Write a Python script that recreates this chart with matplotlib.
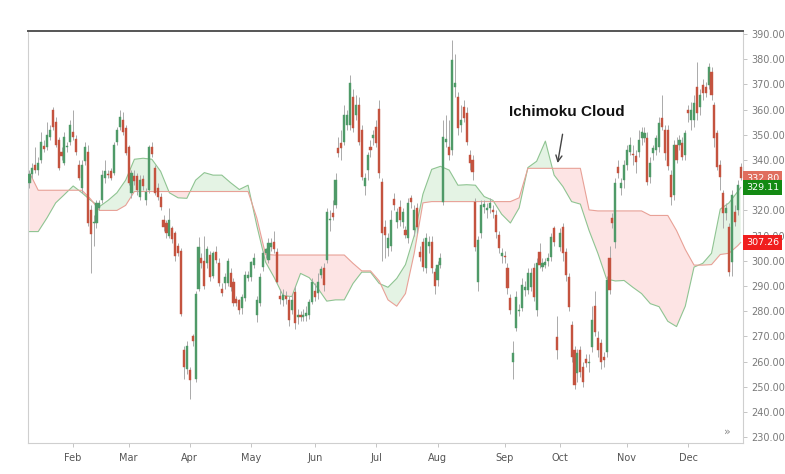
import matplotlib
matplotlib.use('Agg')
import matplotlib.pyplot as plt
import numpy as np
import pandas as pd

# trading days (NYSE 2018), first visible bar Jan 10
holidays = ['2018-01-15', '2018-02-19', '2018-03-30', '2018-05-28', '2018-07-04',
            '2018-09-03', '2018-11-22', '2018-12-05', '2018-12-25']
dates = pd.bdate_range('2018-01-10', '2018-12-31')
dates = dates[~dates.isin(pd.to_datetime(holidays))]

opens = [331, 334.5, 338, 336, 340, 345.5, 345, 349, 360, 355, 348, 343, 339, 345, 347, 351, 348.5, 338,
         329, 339.5, 343, 320, 315, 315, 321, 324, 333, 334.5, 335.5, 335, 347, 353, 356, 352.6, 345, 327,
         333.5, 333.5, 325.5, 332.5, 324, 328, 345, 337, 329, 325.5, 316, 315, 310, 313, 311, 306, 304,
         264.5, 257, 256.7, 270, 253, 289, 301, 300, 299, 302.3, 294, 303.6, 299, 288.7, 291, 291, 295,
         291.7, 284.7, 284.5, 281.1, 285.1, 293, 293.7, 298.3, 278.5, 283.1, 297.7, 303, 300.3, 305.6,
         307.6, 303.6, 286, 284.5, 286, 284.5, 280.5, 287.8, 277.6, 278.5, 277.6, 278, 278.5, 283.8, 288,
         287.1, 294.4, 297, 300.3, 316, 318.9, 322.2, 344.6, 346.6, 347.3, 353.9, 353.9, 365.1, 357.9,
         361.8, 351.9, 329.7, 336, 345, 348.6, 353.2, 360.1, 331.4, 313.6, 305, 306, 324.4, 315.5, 321.5,
         315.5, 312.2, 308.9, 324.8, 312.2, 320.8, 303.6, 307.6, 297, 306, 307.6, 295.7, 292.4, 298.3,
         323.5, 347, 345.3, 344, 369.1, 365.1, 353.9, 361.2, 358.5, 342, 340, 323.5, 291.7, 310.9, 321.5,
         320, 321, 320, 318.2, 310.3, 302, 302, 297, 285.1, 260, 273.2, 280, 281.1, 288.4, 288.4, 289.7,
         297, 280.5, 303.6, 297.7, 298.3, 300, 301.6, 312.9, 269.9, 305.6, 313.5, 303.6, 293.7, 274.5,
         264.6, 255.3, 264.6, 258, 261, 259.3, 265.9, 282, 269.3, 267.2, 262, 264, 301, 316.8, 307.6,
         337.3, 328.8, 332, 338, 343.3, 342.5, 341.5, 343.3, 348.6, 348.6, 348.6, 333.4, 342.6, 344,
         345.3, 356.5, 351.9, 351.9, 334, 326.1, 346, 346, 346.6, 342, 359.8, 355.9, 355.9, 369.1, 361.2,
         369.8, 369.1, 369.8, 375, 361.8, 350.6, 338, 326.8, 318.9, 313.5, 299.7, 319.5, 320.2, 337.4]
highs = [336, 339, 345, 341, 351, 348, 355, 354, 361, 357, 349, 345, 351, 347, 356, 360, 350, 340,
         340, 347, 346, 322, 318, 324, 324, 336, 340, 336, 337, 347, 353, 360, 359, 354, 346, 336,
         336, 335, 334, 334, 329, 346, 347, 338, 331, 327, 318, 316, 321, 314, 312, 307, 305,
         266, 268, 258, 271, 288, 309.6, 303, 310, 306, 304, 304, 306, 301, 291, 295, 301, 297,
         293, 286, 285, 287, 296, 296, 300, 303, 286, 295, 304, 305, 309, 309,
         312, 305, 289, 289, 288, 286, 287, 290, 281, 280, 281, 282, 285, 293, 291,
         295, 298, 299, 321, 320, 324, 335, 349, 352, 362, 360, 373.7, 368, 366,
         365, 354, 335, 343, 348, 352, 356, 364, 333, 316, 311, 320, 327, 321, 324,
         321, 314, 325, 326, 322, 323, 306, 309, 311, 310, 310, 297, 300, 303,
         356, 358, 356, 387.6, 382, 367, 362, 364, 361, 344, 342, 325, 310, 324, 324,
         323, 325, 322, 320, 312, 305, 304, 299, 287, 268, 288, 283, 293, 292, 297, 297,
         299, 301, 307, 301, 301, 303, 311, 314, 278, 313, 315, 305, 295, 276,
         266, 265, 266, 260, 263, 263, 282, 288, 272, 269, 264, 294, 306, 319, 333,
         340, 333, 340, 346, 349, 346, 344, 352, 353, 353, 351, 341, 346, 350,
         357, 366, 354, 354, 336, 348, 349, 350, 349, 352, 362, 363, 366, 379, 368,
         372, 371, 378.4, 377, 363, 352, 340, 328, 323, 315, 328, 322, 332, 339]
lows = [329, 333, 335, 334, 339, 343, 344, 348, 352, 345, 336, 340, 338, 343, 346, 348, 342, 332,
        327, 338, 314, 295, 306, 313, 320, 323, 331, 333, 332, 334, 346, 352, 350, 342, 330, 325,
        330, 326, 324, 328, 322, 327, 341, 326, 324, 320, 312, 309, 309, 307, 300, 302, 278,
        253, 255, 245, 266, 252, 288, 297, 289, 297, 292, 293, 299, 290, 286, 289, 290, 288,
        282, 282, 279, 279, 284, 292, 292, 297, 275.8, 282, 296, 301, 299, 304,
        303, 291, 283, 282, 283, 274, 279, 273, 275, 276, 276, 276, 277, 283, 284,
        285, 293, 288, 299, 312, 316, 321, 341, 340, 346, 352, 352, 351, 356,
        346, 332, 326, 332, 341, 346, 345, 333, 300, 301, 302, 304, 320, 313, 314,
        313, 309, 307, 321, 310, 311, 300, 296, 295, 303, 295, 287, 290, 297,
        322, 345, 340, 342, 365, 350, 351, 355, 346, 336, 332, 304, 288, 309, 319,
        317, 319, 317, 309, 303, 299, 299, 287, 279, 253, 272, 278, 280, 286, 287, 288,
        284, 278, 297, 296, 297, 298, 300, 306, 261, 304, 300, 292, 280, 260,
        249, 252, 254, 250, 258, 256, 264, 270, 262, 257, 258, 262, 287, 313, 305,
        333, 326, 329, 336, 342, 338, 335, 341, 346, 347, 330, 331, 340, 342,
        343, 352, 340, 336, 322, 324, 339, 344, 340, 340, 355, 352, 353, 356, 358,
        364, 365, 368, 364, 345, 336, 328, 313, 316, 294, 294, 314, 318, 332]
closes = [334.5, 337, 336, 339, 347, 344.5, 350, 352, 353, 346, 337, 341.5, 349, 345.5, 354, 349, 343, 333,
          338, 345, 315, 310.5, 315.5, 322.8, 323, 334, 335.5, 334, 333, 346, 352, 357, 351, 342.7, 331, 335,
          331.5, 328, 332, 329.5, 327.5, 345, 342.5, 327, 325.5, 321.5, 313.6, 311, 316, 308.5, 302, 303, 279,
          258, 266, 252.7, 268, 287, 305.6, 299, 290, 304.5, 293.7, 303, 300.3, 291, 287.3, 293.7, 300, 289.7,
          283.1, 283.1, 280.5, 285.8, 294.4, 294.4, 299.6, 301, 284.4, 293.7, 303, 304.5, 307, 307.2,
          304.5, 291.7, 285, 286.4, 284.7, 276.5, 284.5, 275.2, 278.5, 277.6, 278.5, 279.2, 283.8, 291.7, 285.5,
          291.7, 296.6, 290.4, 319.5, 316.5, 317.3, 332, 342.7, 344.6, 357.9, 357.9, 370.4, 352.6, 361.8,
          347.3, 333.4, 332.7, 342, 344, 350, 346.6, 334.7, 310.9, 310.3, 308.9, 316, 322.2, 319.5, 316.2,
          319.2, 310.2, 322.8, 323.5, 320.2, 313.4, 301.6, 297.7, 309, 307.5, 297, 290, 298.3, 301,
          349.3, 348.5, 342, 379.7, 370.4, 352.6, 355.9, 356.5, 347.3, 338.7, 335.4, 305.6, 308.3, 322.2, 322.5,
          321, 323, 319.5, 311.6, 305, 303, 301.5, 289.1, 280.5, 263.3, 285.8, 280, 290.4, 289.7, 295, 295,
          285.8, 299, 298.3, 299, 299.6, 301, 309.6, 307.6, 264.6, 310.9, 303, 294.4, 281.8, 262,
          250.7, 263.3, 256, 252.1, 259.3, 259.5, 276.5, 271.9, 264.6, 260, 260.5, 292.4, 288.4, 314.9, 330.7,
          334.7, 330.7, 338, 344, 346, 341.8, 339.3, 348, 351.2, 350.6, 331.4, 338.7, 344.6, 348.6,
          354.6, 353.2, 342.6, 337.8, 325.4, 346, 340, 348, 341.3, 350.6, 358.5, 359.8, 362.5, 358.5, 365.8,
          366.5, 366.5, 377, 365.8, 348.6, 337.4, 333.4, 318.9, 320.8, 295.7, 326.1, 315.5, 330, 332.8]

# Ichimoku leading spans, read every third bar (plus the last bar)
span_a = [311.6, 311.6, 317, 323, 326.3, 329.7, 327, 324, 321.5, 324,
          327, 332, 340.3, 340.7, 340.3, 335.5, 327, 325, 324.8, 332,
          335, 334, 334, 331, 328.3, 330, 314, 299.5, 293.3, 286.2,
          285.8, 295, 293.3, 289, 284, 284.5, 284.5, 291, 295.5, 295.5,
          291, 289.5, 293, 298.5, 310, 326.5, 336.3, 337.5, 336, 330,
          330.2, 330, 325.5, 324, 318.5, 315, 321, 337, 339.5, 347.5,
          334, 329.5, 323.5, 322.5, 312, 303, 292.8, 292, 292.2, 289.5,
          287, 283, 281.8, 276, 273.9, 282, 297.5, 299, 303, 320.5,
          323, 327.5, 329.11]
span_b = [335, 328, 328, 328, 328, 328, 328, 324.5, 320, 320,
          320, 322, 327.5, 327.5, 327.5, 327.5, 327.5, 327.5, 327.5, 327.5,
          327.5, 327.5, 327.5, 327.5, 327.5, 327.5, 317, 302.5, 302.3, 302.3,
          302.3, 302.3, 302.3, 302.3, 302.3, 302.3, 302.3, 299, 296, 296,
          292, 284.5, 282, 287, 303, 323, 323.5, 323.5, 323.5, 323.5,
          323.5, 323.5, 323.5, 323.5, 323.5, 323.5, 325, 336.7, 336.7, 336.7,
          336.7, 336.7, 336.7, 336.7, 320.2, 319.8, 319.8, 319.8, 319.8, 319.8,
          319.8, 318, 318, 318, 312, 304.5, 298.3, 298.3, 298.5, 302.5,
          303, 306, 307.26]

up_col = '#4f9a68'
down_col = '#c4533f'

o = np.array(opens, float)
h = np.array(highs, float)
l = np.array(lows, float)
c = np.array(closes, float)
n = len(dates)
x = np.arange(n)

fig = plt.figure(figsize=(7.85, 4.74), dpi=100)
ax = fig.add_axes([28/785, 31/474, 715/785, 412/474])

# cloud
sx = np.r_[np.arange(0, n, 3), n - 1]
sa = np.array(span_a)
sb = np.array(span_b)
ax.fill_between(sx, sa, sb, where=sa >= sb, interpolate=True, color='#e4f3e4', lw=0, zorder=1)
ax.fill_between(sx, sa, sb, where=sa < sb, interpolate=True, color='#fde4e4', lw=0, zorder=1)
ax.plot(sx, sa, color='#8fc492', lw=0.8, zorder=2)
ax.plot(sx, sb, color='#e8a197', lw=0.8, zorder=2)

# candles
up = c >= o
cols = np.where(up, up_col, down_col)
ax.vlines(x, l, h, color='#aaaaaa', lw=0.7, zorder=3)
body = np.maximum(np.abs(c - o), 0.5)
ax.bar(x, body, bottom=np.minimum(o, c), width=0.72, color=cols,
       edgecolor=cols, lw=0.3, zorder=4)

ax.set_xlim(-0.5, n - 0.2)
ax.set_ylim(227.7, 391.2)

# axes styling
ax.yaxis.tick_right()
yt = np.arange(230, 391, 10)
ax.set_yticks(yt)
# 330 sits under the price labels, as in the original
ax.set_yticklabels(['' if v == 330 else '%.2f' % v for v in yt])
ax.tick_params(axis='y', labelsize=7, colors='#7a7a7a', length=3, width=0.6, pad=3)

month_start = pd.Series(x, index=dates).groupby(dates.month).first()
month_start = month_start[month_start.index > 1]
ax.set_xticks(month_start.values)
ax.set_xticklabels([dates[i].strftime('%b') for i in month_start.values])
ax.tick_params(axis='x', labelsize=7, colors='#555555', length=3, width=0.6, pad=4)
ax.tick_params(axis='x', color='#bbbbbb')
ax.tick_params(axis='y', color='#bbbbbb')

for s in ['left', 'right', 'bottom']:
    ax.spines[s].set_color('#cfcfcf')
    ax.spines[s].set_linewidth(0.8)
ax.spines['top'].set_color('#555555')
ax.spines['top'].set_linewidth(1.4)

# price labels on the right axis
labels = [(c[-1], '#e06e5e'), (sa[-1], '#138a13'), (sb[-1], '#f01e1e')]
for val, col in labels:
    ax.annotate('%.2f' % val, xy=(1.0, val), xycoords=('axes fraction', 'data'),
                xytext=(2, 0), textcoords='offset points', va='center', ha='left',
                fontsize=6.8, color='white', zorder=10, annotation_clip=False,
                bbox=dict(boxstyle='square,pad=0.28', fc=col, ec='none'))

ax.annotate('Ichimoku Cloud', xy=(181.2, 338.8), xytext=(184.2, 359),
            ha='center', va='center', fontsize=11, fontweight='bold',
            family='Liberation Sans', color='#111111',
            arrowprops=dict(arrowstyle='->', color='#444444', lw=1.0,
                            shrinkA=9, shrinkB=0))

ax.text(0.978, 0.015, '\u00bb', transform=ax.transAxes, fontsize=8,
        color='#888888', ha='center', va='bottom')

fig.savefig('out.png', dpi=100)
